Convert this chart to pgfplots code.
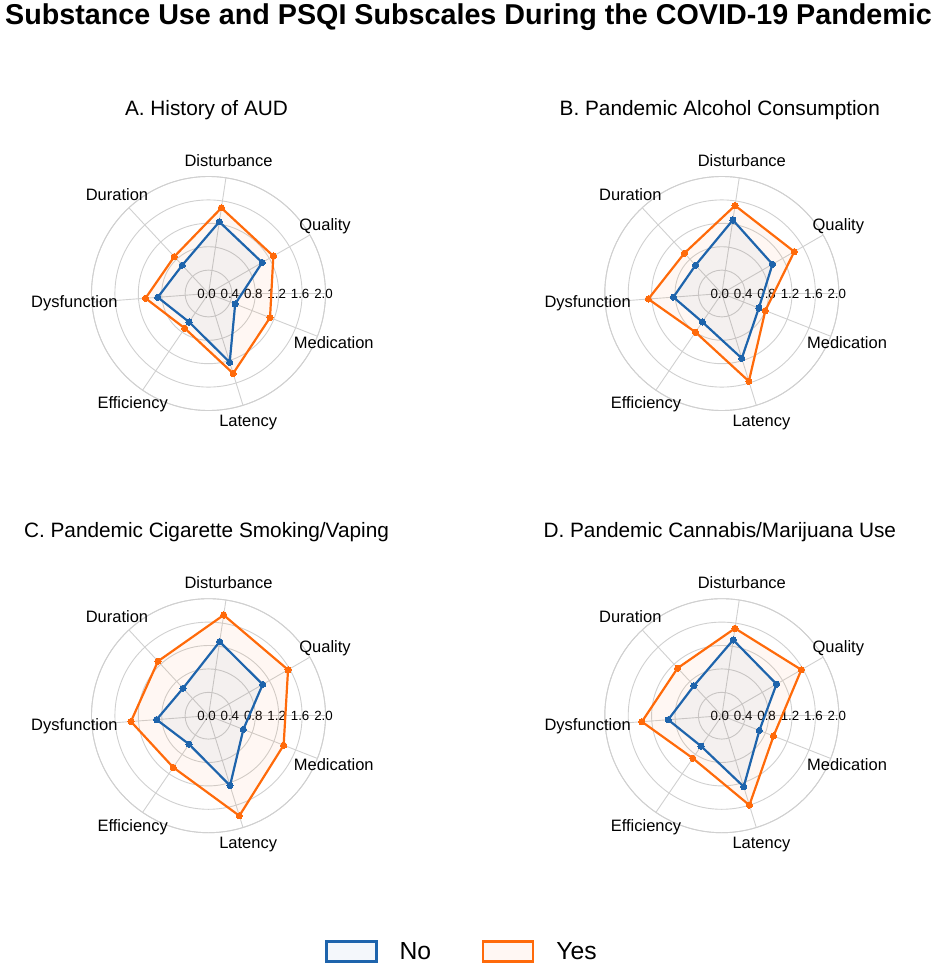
\documentclass[border=0pt]{standalone}
\usepackage{fontspec}
\setmainfont{Liberation Sans}
\usepackage{pgfplots}
\pgfplotsset{compat=1.18}
\usepgfplotslibrary{polar}
\definecolor{cno}{RGB}{30,100,172}
\definecolor{cyes}{RGB}{255,106,10}
\definecolor{cgrid}{RGB}{208,208,208}

\tikzset{lab/.style={anchor=center, font=\fontsize{16.5}{16.5}\selectfont, inner sep=0pt}}
\pgfplotsset{
  radar/.style={
    scale only axis, width=234pt, height=234pt,
    anchor=origin,
    xmin=0, xmax=360, ymin=0, ymax=2.0,
    xtick={30,81.43,132.86,184.29,235.71,287.14,338.57},
    xticklabels={,,,,,,},
    ytick={0,0.4,0.8,1.2,1.6,2.0},
    grid=major,
    major grid style={cgrid, line width=0.9pt},
    axis line style={cgrid, line width=0.9pt},
    tick style={draw=none},
    yticklabel style={anchor=center, font=\fontsize{13.3}{13.3}\selectfont, xshift=-2pt, inner sep=0pt,
      /pgf/number format/.cd, fixed, fixed zerofill, precision=1},
    /pgf/number format/assume math mode=true,
    clip=false,
  },
  no/.style={draw=cno, line width=2.2pt, line join=round, fill=cno, fill opacity=0.05,
    mark=*, mark size=3.1pt, mark options={fill=cno, draw=cno, fill opacity=1, line width=0pt}},
  yes/.style={draw=cyes, line width=2.2pt, line join=round, fill=cyes, fill opacity=0.05,
    mark=*, mark size=3.1pt, mark options={fill=cyes, draw=cyes, fill opacity=1, line width=0pt}},
}
\newcommand{\radarlabels}{%
  \node[lab] at (axis cs:81.43,2.30) {Disturbance};
  \node[lab] at (axis cs:30,2.30) {Quality};
  \node[lab] at (axis cs:338.57,2.30) {Medication};
  \node[lab] at (axis cs:287.14,2.30) {Latency};
  \node[lab] at (axis cs:235.71,2.30) {Efficiency};
  \node[lab] at (axis cs:184.29,2.30) {Dysfunction};
  \node[lab] at (axis cs:132.86,2.30) {Duration};
}

\begin{document}
\begin{tikzpicture}
\useasboundingbox (0pt,0pt) rectangle (935pt,-966pt);

\node[anchor=base, font=\bfseries\fontsize{28.7}{28.7}\selectfont] at (468.5pt,-25pt)
  {Substance Use and PSQI Subscales During the COVID-19 Pandemic};

\node[anchor=base, font=\fontsize{20.8}{20.8}\selectfont] at (206.5pt,-115pt) {A. History of AUD};
\node[anchor=base, font=\fontsize{20.8}{20.8}\selectfont] at (719.8pt,-115pt) {B. Pandemic Alcohol Consumption};
\node[anchor=base, font=\fontsize{20.8}{20.8}\selectfont] at (206.5pt,-537.2pt) {C. Pandemic Cigarette Smoking/Vaping};
\node[anchor=base, font=\fontsize{20.8}{20.8}\selectfont] at (719.8pt,-537.2pt) {D. Pandemic Cannabis/Marijuana Use};

% A
\begin{polaraxis}[radar, at={(208.5pt,-293.5pt)}]
\addplot[yes] coordinates {(81.43,1.48) (30,1.28) (338.57,1.13) (287.14,1.43) (235.71,0.72) (184.29,1.08) (132.86,0.86) (81.43,1.48)};
\addplot[no] coordinates {(81.43,1.24) (30,1.06) (338.57,0.49) (287.14,1.23) (235.71,0.59) (184.29,0.87) (132.86,0.66) (81.43,1.24)};
\radarlabels
\end{polaraxis}

% B
\begin{polaraxis}[radar, at={(721.8pt,-293.5pt)}]
\addplot[yes] coordinates {(81.43,1.52) (30,1.43) (338.57,0.80) (287.14,1.57) (235.71,0.80) (184.29,1.26) (132.86,0.94) (81.43,1.52)};
\addplot[no] coordinates {(81.43,1.27) (30,1.00) (338.57,0.68) (287.14,1.16) (235.71,0.59) (184.29,0.83) (132.86,0.66) (81.43,1.27)};
\radarlabels
\end{polaraxis}

% C
\begin{polaraxis}[radar, at={(208.5pt,-715.7pt)}]
\addplot[yes] coordinates {(81.43,1.74) (30,1.57) (338.57,1.38) (287.14,1.79) (235.71,1.07) (184.29,1.33) (132.86,1.27) (81.43,1.74)};
\addplot[no] coordinates {(81.43,1.28) (30,1.07) (338.57,0.64) (287.14,1.25) (235.71,0.59) (184.29,0.89) (132.86,0.64) (81.43,1.28)};
\radarlabels
\end{polaraxis}

% D
\begin{polaraxis}[radar, at={(721.8pt,-715.7pt)}]
\addplot[yes] coordinates {(81.43,1.51) (30,1.57) (338.57,0.95) (287.14,1.60) (235.71,0.88) (184.29,1.37) (132.86,1.11) (81.43,1.51)};
\addplot[no] coordinates {(81.43,1.31) (30,1.08) (338.57,0.69) (287.14,1.27) (235.71,0.63) (184.29,0.92) (132.86,0.70) (81.43,1.31)};
\radarlabels
\end{polaraxis}

% Legend
\begin{axis}[at={(461pt,-951.5pt)}, anchor=center, hide axis, scale only axis,
  width=1pt, height=1pt, xmin=0, xmax=1, ymin=0, ymax=1,
  legend columns=2,
  legend style={at={(0.5,0.5)}, anchor=center, draw=none, fill=none,
    font=\fontsize{24.7}{24.7}\selectfont, inner sep=0pt, nodes={inner sep=0pt},
    /tikz/every even column/.append style={column sep=51pt}},
  legend image code/.code={\draw[#1] (0pt,-10pt) rectangle (50pt,10pt); \path (72pt,0pt);}]
\addlegendimage{draw=cno, fill=cno, fill opacity=0.05, line width=2.2pt}
\addlegendentry{No}
\addlegendimage{draw=cyes, fill=cyes, fill opacity=0.05, line width=2.2pt}
\addlegendentry{Yes}
\end{axis}
\end{tikzpicture}
\end{document}
